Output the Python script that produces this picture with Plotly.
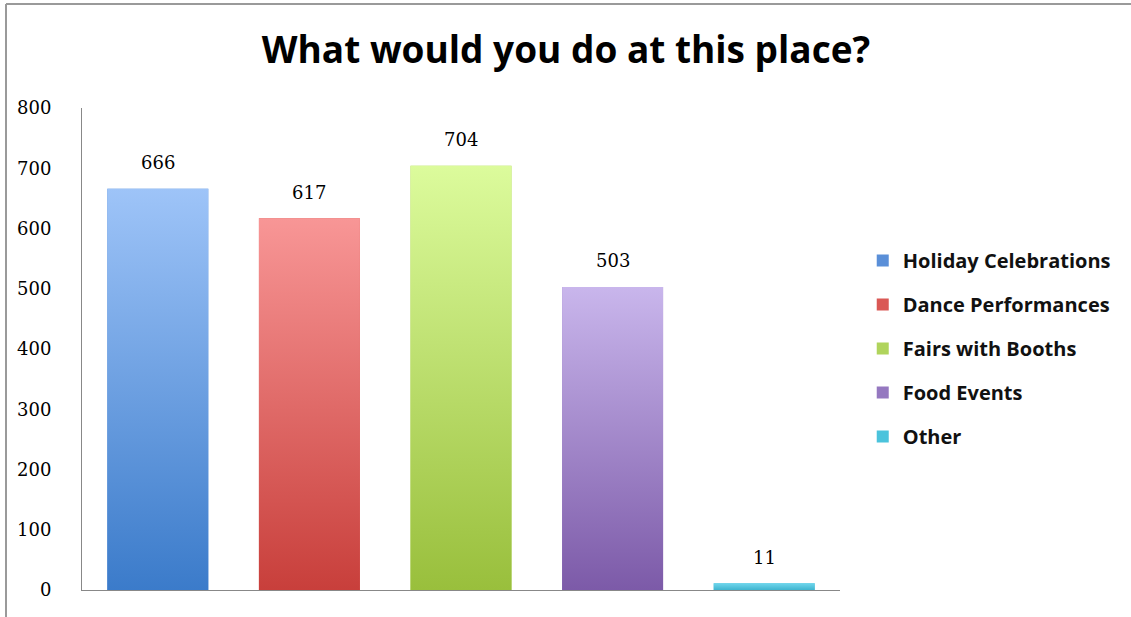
import plotly.graph_objects as go

categories = ["Holiday Celebrations", "Dance Performances", "Fairs with Booths", "Food Events", "Other"]
values = [666, 617, 704, 503, 11]
top_colors = ["#9EC4F8", "#F89696", "#DCFB9C", "#C9B6EC", "#6FD6EC"]
bottom_colors = ["#3B7BCA", "#C83F3B", "#99BF3C", "#7C5AA8", "#3FB4CF"]
mid_colors = ["#5A8FD8", "#DA5855", "#B0D45C", "#9578C0", "#4BC3DC"]
y_ticks = [0, 100, 200, 300, 400, 500, 600, 700, 800]

BAR_W = 0.666
fig = go.Figure()

for i, (cat, v) in enumerate(zip(categories, values)):
    fig.add_trace(go.Bar(
        x=[i], y=[v], name=cat, width=BAR_W,
        marker=dict(color=mid_colors[i], line=dict(width=0)),
        legendgroup=cat, hoverinfo="skip",
    ))

for i, (cat, v) in enumerate(zip(categories, values)):
    x0, x1 = i - BAR_W / 2, i + BAR_W / 2
    fig.add_trace(go.Scatter(
        x=[x0, x1, x1, x0, x0], y=[0, 0, v, v, 0],
        mode="none", fill="toself", showlegend=False, hoverinfo="skip",
        fillgradient=dict(type="vertical",
                          colorscale=[[0, bottom_colors[i]], [1, top_colors[i]]]),
    ))

for i, v in enumerate(values):
    fig.add_annotation(x=i, y=v, text=str(v), showarrow=False, yshift=26,
                       font=dict(family="DejaVu Serif", size=18, color="#000000"))

fig.update_layout(
    width=1131, height=617,
    margin=dict(l=82, r=291, t=108, b=27),
    paper_bgcolor="white", plot_bgcolor="white",
    title=dict(text="What would you do at this place?", x=566 / 1131, xref="container",
               xanchor="center", y=1 - 50 / 617, yanchor="middle",
               font=dict(family="Open Sans", size=37, color="#000000", weight="bold")),
    showlegend=True,
    legend=dict(x=1.03, y=0.724, xanchor="left", yanchor="top",
                tracegroupgap=15, itemwidth=30,
                font=dict(family="Open Sans", size=20, color="#111111", weight="bold")),
    xaxis=dict(range=[-0.5, 4.5], showticklabels=False, showgrid=False, zeroline=False,
               showline=True, linecolor="#888888", linewidth=1, ticks=""),
    yaxis=dict(range=[0, 800], tickvals=y_ticks, showgrid=False, zeroline=False,
               showline=True, linecolor="#888888", linewidth=1, ticks="",
               ticklabelstandoff=26,
               tickfont=dict(family="DejaVu Serif", size=18, color="#000000")),
    shapes=[
        dict(type="line", xref="paper", yref="paper",
             x0=(6 - 82) / 758, x1=(1131 - 82) / 758, y0=(590 - 4) / 482, y1=(590 - 4) / 482,
             line=dict(color="#9a9a9a", width=2)),
        dict(type="line", xref="paper", yref="paper",
             x0=(6 - 82) / 758, x1=(6 - 82) / 758, y0=(590 - 4) / 482, y1=(590 - 617) / 482,
             line=dict(color="#9a9a9a", width=2)),
    ],
)

fig.write_html("out.html")
